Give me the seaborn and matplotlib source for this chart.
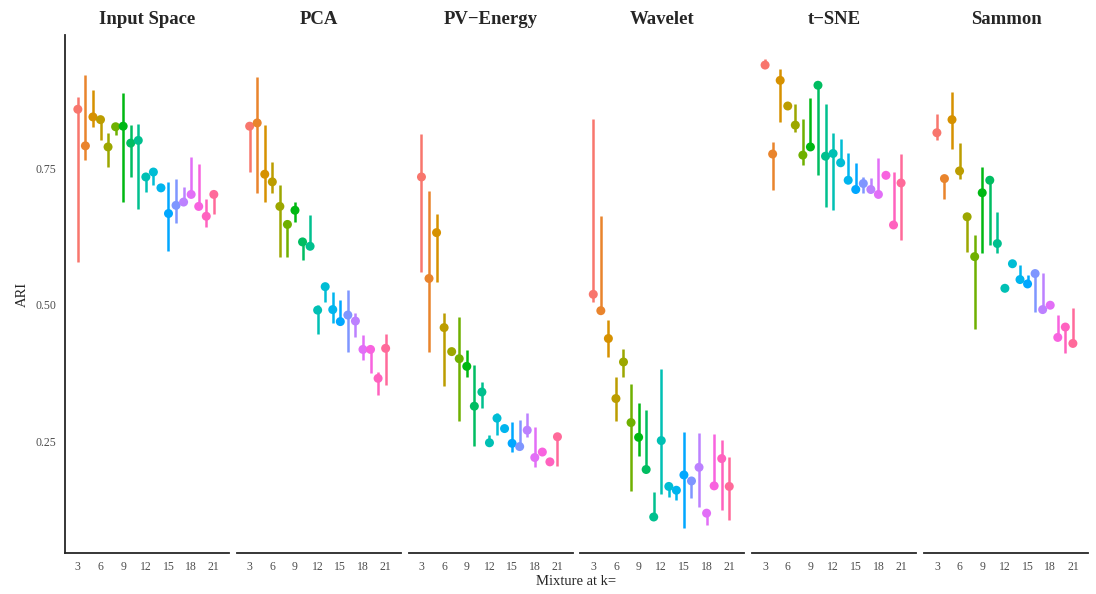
import numpy as np
import pandas as pd
import matplotlib
matplotlib.use("Agg")
import matplotlib.pyplot as plt
import seaborn as sns

# values (median ARI and the range bar per k)
ks = list(range(3, 22))
methods = ["Input Space", "PCA", "PV\u2212Energy", "Wavelet", "t\u2212SNE", "Sammon"]

input_mid = [0.858, 0.791, 0.844, 0.839, 0.789, 0.826, 0.827, 0.796, 0.801, 0.734,
             0.743, 0.714, 0.667, 0.682, 0.688, 0.702, 0.680, 0.662, 0.702]
input_lo = [0.578, 0.765, 0.826, 0.801, 0.752, 0.810, 0.688, 0.734, 0.676, 0.707,
            0.719, 0.711, 0.599, 0.649, 0.682, 0.697, 0.676, 0.643, 0.667]
input_hi = [0.881, 0.920, 0.893, 0.845, 0.814, 0.832, 0.888, 0.829, 0.831, 0.740,
            0.746, 0.718, 0.725, 0.731, 0.716, 0.771, 0.757, 0.694, 0.706]

pca_mid = [0.827, 0.833, 0.739, 0.725, 0.680, 0.647, 0.673, 0.615, 0.607, 0.490,
           0.533, 0.491, 0.469, 0.481, 0.470, 0.418, 0.418, 0.365, 0.420]
pca_lo = [0.743, 0.704, 0.688, 0.704, 0.588, 0.588, 0.652, 0.582, 0.606, 0.447,
          0.505, 0.466, 0.466, 0.414, 0.441, 0.398, 0.374, 0.334, 0.353]
pca_hi = [0.835, 0.917, 0.829, 0.762, 0.719, 0.648, 0.688, 0.617, 0.664, 0.499,
          0.537, 0.523, 0.509, 0.527, 0.484, 0.444, 0.419, 0.377, 0.447]

pve_mid = [0.734, 0.548, 0.632, 0.458, 0.414, 0.401, 0.387, 0.314, 0.340, 0.247,
           0.292, 0.273, 0.246, 0.240, 0.270, 0.220, 0.230, 0.212, 0.258]
pve_lo = [0.560, 0.414, 0.542, 0.351, 0.412, 0.286, 0.368, 0.241, 0.310, 0.246,
          0.261, 0.268, 0.230, 0.238, 0.258, 0.203, 0.228, 0.210, 0.204]
pve_hi = [0.812, 0.708, 0.666, 0.484, 0.416, 0.478, 0.417, 0.389, 0.359, 0.261,
          0.301, 0.279, 0.285, 0.288, 0.301, 0.276, 0.232, 0.218, 0.261]

wav_mid = [0.519, 0.489, 0.438, 0.328, 0.395, 0.284, 0.257, 0.198, 0.111, 0.251,
           0.167, 0.160, 0.188, 0.177, 0.202, 0.118, 0.168, 0.218, 0.167]
wav_lo = [0.505, 0.486, 0.405, 0.287, 0.368, 0.159, 0.222, 0.196, 0.109, 0.154,
          0.147, 0.143, 0.090, 0.145, 0.130, 0.096, 0.166, 0.124, 0.106]
wav_hi = [0.841, 0.662, 0.472, 0.368, 0.418, 0.354, 0.320, 0.307, 0.157, 0.383,
          0.170, 0.162, 0.267, 0.180, 0.264, 0.120, 0.263, 0.252, 0.220]

tsne_mid = [0.939, 0.776, 0.911, 0.864, 0.829, 0.774, 0.789, 0.902, 0.772, 0.777,
            0.760, 0.728, 0.711, 0.722, 0.711, 0.702, 0.737, 0.646, 0.723]
tsne_lo = [0.937, 0.710, 0.835, 0.862, 0.817, 0.756, 0.783, 0.737, 0.679, 0.673,
           0.757, 0.726, 0.709, 0.704, 0.709, 0.699, 0.735, 0.644, 0.618]
tsne_hi = [0.951, 0.798, 0.931, 0.868, 0.868, 0.841, 0.878, 0.905, 0.868, 0.814,
           0.803, 0.777, 0.760, 0.734, 0.733, 0.768, 0.740, 0.743, 0.776]

sam_mid = [0.815, 0.731, 0.839, 0.745, 0.661, 0.588, 0.705, 0.728, 0.612, 0.530,
           0.575, 0.546, 0.538, 0.557, 0.491, 0.499, 0.440, 0.459, 0.429]
sam_lo = [0.801, 0.694, 0.786, 0.731, 0.597, 0.456, 0.595, 0.609, 0.594, 0.528,
          0.572, 0.543, 0.534, 0.487, 0.489, 0.497, 0.437, 0.411, 0.427]
sam_hi = [0.850, 0.733, 0.890, 0.796, 0.663, 0.627, 0.752, 0.734, 0.670, 0.536,
          0.578, 0.572, 0.554, 0.560, 0.558, 0.501, 0.481, 0.462, 0.493]

mids = [input_mid, pca_mid, pve_mid, wav_mid, tsne_mid, sam_mid]
los = [input_lo, pca_lo, pve_lo, wav_lo, tsne_lo, sam_lo]
his = [input_hi, pca_hi, pve_hi, wav_hi, tsne_hi, sam_hi]

rows = []
for m, mid, lo, hi in zip(methods, mids, los, his):
    for k, a, b, c in zip(ks, mid, lo, hi):
        rows.append({"method": m, "k": k, "ari": a, "lo": b, "hi": c})
df = pd.DataFrame(rows)


def hcl_hex(h, c=100.0, l=65.0):
    # ggplot2 style hue colours (polar LUV -> sRGB)
    xn, yn, zn = 95.047, 100.0, 108.883
    un = 4 * xn / (xn + 15 * yn + 3 * zn)
    vn = 9 * yn / (xn + 15 * yn + 3 * zn)
    u = c * np.cos(np.radians(h))
    v = c * np.sin(np.radians(h))
    Y = yn * ((l + 16) / 116) ** 3
    up = u / (13 * l) + un
    vp = v / (13 * l) + vn
    X = Y * 9 * up / (4 * vp)
    Z = Y * (12 - 3 * up - 20 * vp) / (4 * vp)
    xyz = np.array([X, Y, Z]) / 100
    M = np.array([[3.2406, -1.5372, -0.4986],
                  [-0.9689, 1.8758, 0.0415],
                  [0.0557, -0.2040, 1.0570]])
    rgb = M @ xyz
    rgb = np.where(rgb <= 0.0031308, 12.92 * rgb, 1.055 * np.abs(rgb) ** (1 / 2.4) - 0.055)
    rgb = np.clip(rgb, 0, 1)
    return matplotlib.colors.to_hex(rgb)


n = len(ks)
hues = [15 + 360 * i / n for i in range(n)]
palette = {k: hcl_hex(h) for k, h in zip(ks, hues)}

sns.set_style("white")
plt.rcParams["font.family"] = ["Liberation Serif", "DejaVu Serif"]

g = sns.FacetGrid(df, col="method", col_order=methods, sharey=True, sharex=True,
                  height=5.94, aspect=1.0)
g.figure.set_size_inches(10.96, 5.94)


def draw(data, **kws):
    ax = plt.gca()
    ax.vlines(data["k"], data["lo"], data["hi"],
              colors=[palette[k] for k in data["k"]], linewidth=1.8, zorder=2)
    sns.scatterplot(data=data, x="k", y="ari", hue="k", palette=palette,
                    legend=False, s=42, linewidth=0, ax=ax, zorder=3)


g.map_dataframe(draw)
g.set_titles("{col_name}", fontweight="bold", size=13.5, pad=8)
g.set(xlim=(1.3, 23.0), ylim=(0.045, 0.994),
      xticks=[3, 6, 9, 12, 15, 18, 21], yticks=[0.25, 0.50, 0.75])
g.set_axis_labels("", "")

for i, ax in enumerate(g.axes.flat):
    ax.spines["top"].set_visible(False)
    ax.spines["right"].set_visible(False)
    ax.spines["bottom"].set_linewidth(1.3)
    ax.spines["left"].set_linewidth(1.3)
    ax.tick_params(axis="both", length=0, labelsize=8.5, labelcolor="#4D4D4D", pad=6)
    ax.set_yticklabels(["0.25", "0.50", "0.75"])
    if i > 0:
        ax.spines["left"].set_visible(False)
        ax.tick_params(axis="y", left=False, labelleft=False)

g.axes.flat[0].set_ylabel("ARI", fontsize=10.5, labelpad=5)
g.figure.subplots_adjust(left=0.0593, right=0.9927, top=0.941, bottom=0.069, wspace=0.048)
g.figure.text(0.526, 0.01, "Mixture at k=", ha="center", va="bottom", fontsize=10.5)

g.figure.savefig("out.png", dpi=100)
